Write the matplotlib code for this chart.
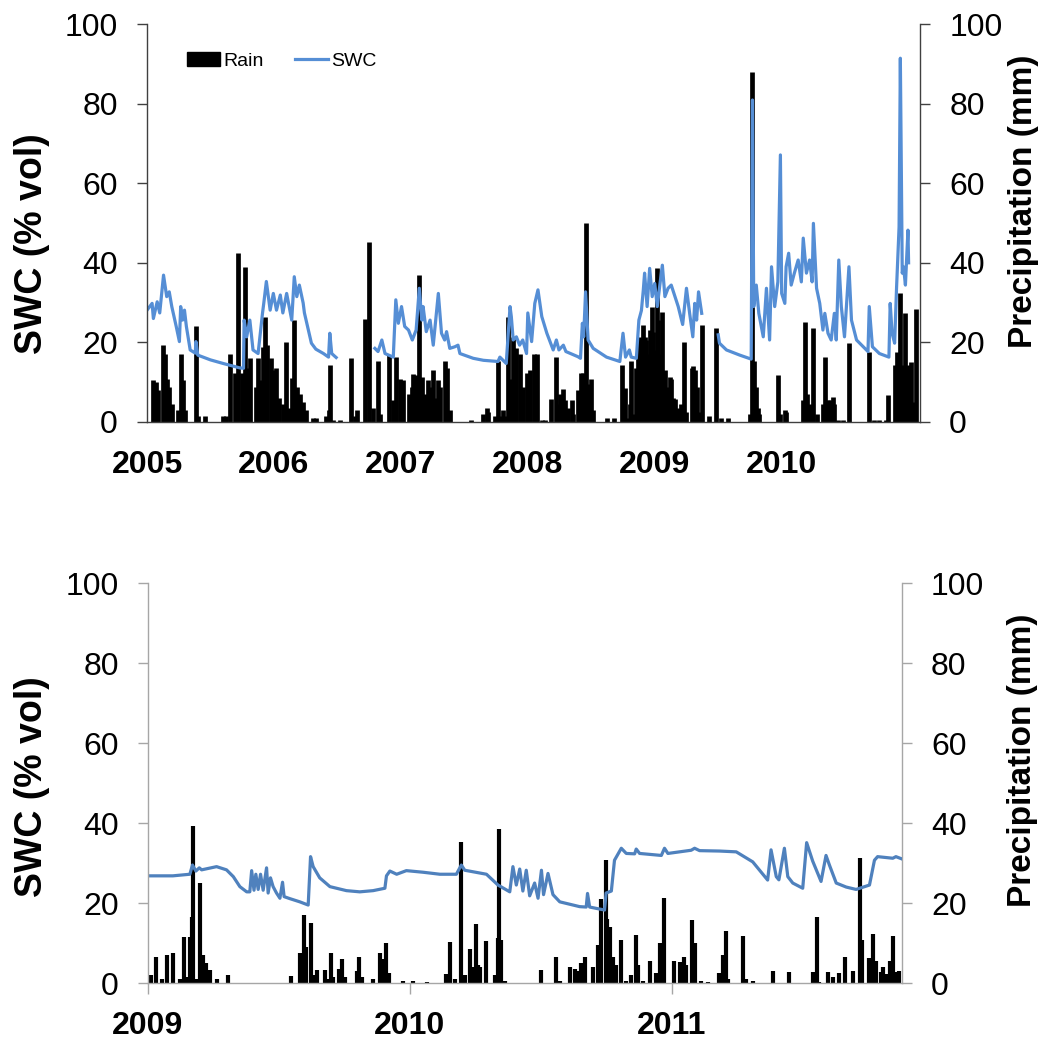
import numpy as np
import matplotlib
matplotlib.use("Agg")
import matplotlib.pyplot as plt
from matplotlib.patches import Patch
from matplotlib.lines import Line2D

plt.rcParams['font.family'] = ['Liberation Sans', 'DejaVu Sans']

# ----------------------------------
# DATA (decimal years)
# ----------------------------------

nan = np.nan

# top panel: soil water content (% vol), gaps = missing data
top_swc_year = [2005.00, 2005.04, 2005.05, 2005.08, 2005.10, 2005.13, 2005.155, 2005.175, 2005.195,
                2005.23, 2005.255, 2005.265, 2005.28, 2005.295, 2005.31, 2005.34, 2005.38, 2005.385,
                2005.40, 2005.50, 2005.60, 2005.73, 2005.76, 2005.765, 2005.785, 2005.81, 2005.835, 2005.875,
                2005.91, 2005.92, 2005.94, 2005.97, 2005.995, 2006.02, 2006.05, 2006.07, 2006.10,
                2006.14, 2006.16, 2006.18, 2006.20, 2006.23, 2006.24, 2006.295, 2006.33, 2006.39, 2006.43,
                2006.44, 2006.455, 2006.49, 2006.60,
                2006.795, 2006.82, 2006.85, 2006.875, 2006.94, 2006.96, 2006.98, 2007.005, 2007.03,
                2007.06, 2007.09, 2007.12, 2007.145, 2007.165, 2007.175, 2007.20, 2007.23, 2007.255,
                2007.295, 2007.32, 2007.345, 2007.36, 2007.385, 2007.425, 2007.45, 2007.465, 2007.57,
                2007.65, 2007.765, 2007.78, 2007.83, 2007.86, 2007.87, 2007.885, 2007.91, 2007.935, 2007.96,
                2007.99, 2008.00, 2008.03, 2008.055, 2008.08, 2008.11, 2008.15, 2008.20, 2008.225,
                2008.245, 2008.28, 2008.30, 2008.395, 2008.415, 2008.43, 2008.44, 2008.455, 2008.475,
                2008.515, 2008.62, 2008.725, 2008.75, 2008.77, 2008.80, 2008.815, 2008.855, 2008.875,
                2008.895, 2008.91, 2008.92, 2008.94, 2008.96, 2008.98, 2009.00, 2009.02, 2009.04,
                2009.06, 2009.08, 2009.105, 2009.13, 2009.16, 2009.185, 2009.22, 2009.25, 2009.275,
                2009.30, 2009.315, 2009.33, 2009.345, 2009.37, 2009.43,
                2009.50, 2009.51, 2009.565, 2009.67, 2009.76, 2009.77, 2009.78, 2009.80, 2009.82,
                2009.855, 2009.88, 2009.905, 2009.92, 2009.945, 2009.97, 2009.99, 2010.00, 2010.025,
                2010.035, 2010.055, 2010.075, 2010.10, 2010.13, 2010.155, 2010.17, 2010.195, 2010.22,
                2010.24, 2010.25, 2010.275, 2010.30, 2010.325, 2010.34, 2010.365, 2010.39, 2010.415,
                2010.43, 2010.45, 2010.47, 2010.495, 2010.53, 2010.55, 2010.59, 2010.68, 2010.69,
                2010.715, 2010.77, 2010.845, 2010.855, 2010.87, 2010.89, 2010.905, 2010.925, 2010.935,
                2010.95, 2010.96, 2010.975, 2010.995, 2011.00]
top_swc_val = [28.1, 29.8, 26.0, 30.2, 27.4, 36.9, 31.5, 32.7, 29.0,
               24.0, 20.2, 29.0, 25.6, 28.1, 24.0, 18.1, 17.3, 20.2,
               16.8, 15.6, 14.7, 13.6, 13.5, 25.6, 21.4, 25.6, 18.1, 17.2,
               27.4, 29.9, 35.3, 28.1, 32.3, 28.1, 31.9, 27.4, 32.3,
               25.6, 36.5, 31.5, 34.4, 29.9, 27.4, 19.8, 18.3, 17.2, 16.3,
               22.3, 17.2, 16.2, nan,
               18.5, 17.7, 20.6, 17.2, 16.3, 30.7, 24.8, 29.0, 24.0,
               23.1, 20.6, 23.1, 33.6, 25.6, 29.0, 22.7, 25.6, 19.3,
               32.3, 22.3, 20.6, 22.7, 18.5, 18.9, 19.3, 17.2, 16.0,
               15.5, 15.2, 16.3, 14.7, 29.0, 26.5, 20.6, 21.4, 19.3, 20.6,
               17.2, 27.4, 20.2, 29.8, 33.2, 26.5, 22.3, 18.1, 20.6,
               18.1, 19.3, 17.7, 16.4, 16.0, 24.8, 21.4, 32.7, 20.6,
               18.5, 16.3, 15.2, 22.3, 16.3, 18.1, 16.3, 16.0, 25.6,
               28.0, 33.2, 37.4, 29.0, 38.6, 31.5, 34.8, 29.0, 34.4,
               39.4, 31.5, 33.6, 34.4, 31.5, 29.0, 24.5, 33.6, 27.3,
               21.4, 29.8, 25.6, 32.7, 27.3, nan,
               21.9, 19.8, 18.1, 16.8, 15.8, 80.9, 29.0, 34.4, 27.3,
               21.4, 33.6, 20.6, 39.0, 29.0, 35.2, 67.1, 32.3, 29.8,
               39.0, 42.4, 34.4, 37.4, 40.7, 35.2, 46.2, 37.4, 40.7,
               35.2, 49.9, 33.6, 29.8, 23.1, 27.3, 22.3, 20.6, 27.3,
               20.6, 40.7, 29.0, 21.4, 39.0, 25.6, 20.6, 17.7, 29.0,
               18.9, 17.2, 16.3, 29.8, 22.3, 19.8, 33.6, 49.0, 91.4,
               37.4, 39.0, 34.4, 48.2, 40.0]

# top panel: daily rain (mm)
top_rain_year = [2005.045, 2005.07, 2005.09, 2005.125, 2005.14, 2005.155, 2005.17, 2005.195, 2005.245,
                 2005.265, 2005.28, 2005.30, 2005.385, 2005.405, 2005.455, 2005.595, 2005.62, 2005.65,
                 2005.69, 2005.705, 2005.72, 2005.745, 2005.77, 2005.785, 2005.81, 2005.86, 2005.875,
                 2005.89, 2005.91, 2005.93, 2005.945, 2005.975, 2005.995, 2006.02, 2006.04, 2006.075,
                 2006.095, 2006.12, 2006.14, 2006.16, 2006.18, 2006.205, 2006.23, 2006.255, 2006.31,
                 2006.335, 2006.41, 2006.43, 2006.445, 2006.465, 2006.52, 2006.605, 2006.64, 2006.655,
                 2006.715, 2006.75, 2006.78, 2006.82, 2006.835, 2006.91, 2006.935, 2006.96, 2006.99,
                 2007.02, 2007.06, 2007.085, 2007.095, 2007.12, 2007.14, 2007.165, 2007.19, 2007.215,
                 2007.24, 2007.255, 2007.28, 2007.295, 2007.31, 2007.345, 2007.36, 2007.385, 2007.555,
                 2007.65, 2007.675, 2007.69, 2007.74, 2007.765, 2007.785, 2007.805, 2007.83, 2007.845,
                 2007.865, 2007.885, 2007.91, 2007.935, 2007.965, 2007.99, 2008.015, 2008.045, 2008.07,
                 2008.11, 2008.135, 2008.185, 2008.22, 2008.24, 2008.25, 2008.275, 2008.29, 2008.315,
                 2008.345, 2008.355, 2008.395, 2008.42, 2008.435, 2008.455, 2008.475, 2008.495, 2008.515,
                 2008.62, 2008.68, 2008.745, 2008.765, 2008.78, 2008.805, 2008.815, 2008.84, 2008.855,
                 2008.87, 2008.88, 2008.895, 2008.91, 2008.92, 2008.935, 2008.945, 2008.96, 2008.975,
                 2008.985, 2009.00, 2009.015, 2009.025, 2009.04, 2009.06, 2009.08, 2009.095, 2009.12,
                 2009.13, 2009.145, 2009.16, 2009.185, 2009.21, 2009.23, 2009.25, 2009.29, 2009.30,
                 2009.315, 2009.335, 2009.355, 2009.375, 2009.43, 2009.48, 2009.525, 2009.575, 2009.75,
                 2009.765, 2009.785, 2009.80, 2009.81, 2009.825, 2009.97, 2009.985, 2010.025, 2010.035,
                 2010.17, 2010.18, 2010.20, 2010.22, 2010.235, 2010.25, 2010.275, 2010.325, 2010.34,
                 2010.365, 2010.38, 2010.405, 2010.415, 2010.44, 2010.48, 2010.53, 2010.69, 2010.73,
                 2010.77, 2010.825, 2010.835, 2010.89, 2010.905, 2010.915, 2010.93, 2010.955, 2010.975,
                 2010.995, 2011.02, 2011.04, 2011.06]
top_rain_mm = [10.5, 10.0, 8.0, 19.3, 17.0, 10.8, 8.7, 4.5, 3.0,
               17.2, 10.5, 3.0, 24.0, 1.5, 1.5, 1.5, 1.5, 17.2,
               12.3, 3.0, 42.4, 12.3, 39.0, 13.5, 16.0, 8.7, 16.0,
               10.5, 18.9, 26.5, 19.3, 16.0, 13.0, 13.5, 6.0, 4.5,
               20.2, 3.5, 11.0, 25.6, 8.7, 7.0, 5.0, 3.0, 1.0,
               1.0, 1.5, 3.0, 14.3, 0.5, 0.5, 16.0, 1.5, 3.0,
               26.0, 45.3, 3.5, 15.2, 2.0, 16.8, 5.5, 16.3, 10.8,
               10.5, 7.0, 8.7, 12.0, 11.7, 36.9, 11.3, 7.0, 10.5,
               8.7, 13.0, 6.0, 10.5, 8.7, 15.2, 13.5, 3.0, 0.5,
               2.0, 3.5, 2.5, 1.5, 15.2, 1.5, 3.0, 1.5, 26.5,
               10.8, 21.4, 18.5, 17.2, 8.7, 12.3, 13.0, 17.2, 17.2,
               0.5, 0.5, 5.9, 16.3, 4.5, 7.0, 8.4, 5.5, 3.5,
               5.5, 2.0, 8.0, 12.3, 12.3, 50.0, 9.5, 10.8, 3.0,
               1.0, 1.0, 14.3, 8.5, 1.0, 4.5, 15.2, 2.0, 13.5,
               20.6, 21.4, 20.6, 24.4, 21.4, 20.6, 17.2, 23.0, 29.0,
               22.7, 18.1, 38.6, 25.6, 17.2, 27.7, 13.0, 8.7, 11.3,
               10.8, 6.0, 5.9, 3.5, 4.5, 20.2, 2.5, 13.5, 14.0,
               13.0, 8.7, 2.5, 24.4, 1.5, 23.6, 1.0, 1.0, 2.0,
               88.0, 15.2, 8.7, 3.5, 2.0, 11.7, 2.0, 3.0, 2.5,
               5.5, 25.0, 7.0, 4.5, 3.0, 23.6, 2.0, 4.5, 16.3,
               5.5, 5.5, 6.3, 4.5, 0.5, 0.5, 19.8, 17.7, 0.5,
               0.5, 0.5, 6.7, 14.3, 17.7, 17.0, 32.3, 14.3, 27.3,
               14.3, 15.0, 5.0, 28.3]

# bottom panel: soil water content (% vol)
bot_swc_year = [2009.00, 2009.095, 2009.16, 2009.17, 2009.183, 2009.196, 2009.205, 2009.262, 2009.30,
                2009.326, 2009.351, 2009.377, 2009.389, 2009.396, 2009.405, 2009.412, 2009.421, 2009.43,
                2009.44, 2009.453, 2009.459, 2009.468, 2009.478, 2009.491, 2009.504, 2009.514, 2009.52,
                2009.542, 2009.58, 2009.612, 2009.621, 2009.631, 2009.656, 2009.695, 2009.758, 2009.809,
                2009.86, 2009.905, 2009.911, 2009.924, 2009.95, 2009.987, 2010.051, 2010.115, 2010.178,
                2010.197, 2010.21, 2010.293, 2010.337, 2010.382, 2010.394, 2010.407, 2010.42, 2010.432,
                2010.445, 2010.458, 2010.477, 2010.49, 2010.503, 2010.511, 2010.528, 2010.547, 2010.573,
                2010.649, 2010.674, 2010.679, 2010.687, 2010.744, 2010.75, 2010.77, 2010.782, 2010.808,
                2010.827, 2010.859, 2010.865, 2010.878, 2010.961, 2010.973, 2010.986, 2011.075, 2011.088,
                2011.107, 2011.183, 2011.247, 2011.31, 2011.367, 2011.38, 2011.40, 2011.41, 2011.431,
                2011.444, 2011.463, 2011.501, 2011.516, 2011.539, 2011.571, 2011.59, 2011.603, 2011.629,
                2011.667, 2011.705, 2011.756, 2011.775, 2011.787, 2011.845, 2011.857, 2011.877]
bot_swc_val = [26.8, 26.8, 27.2, 29.5, 28.0, 28.8, 28.3, 29.1, 28.3,
               26.6, 24.1, 22.8, 22.8, 28.1, 23.2, 27.2, 23.4, 27.2,
               23.2, 28.8, 22.5, 26.3, 24.1, 22.5, 21.2, 25.2, 21.6,
               21.1, 20.3, 19.5, 31.6, 29.1, 26.3, 24.1, 23.1, 22.8,
               23.1, 23.7, 26.8, 28.0, 27.2, 28.1, 27.7, 27.2, 27.2,
               29.5, 28.2, 27.2, 24.5, 22.8, 29.1, 24.5, 28.5, 23.0,
               28.2, 21.8, 25.0, 21.2, 28.2, 22.1, 27.4, 22.1, 20.3,
               19.1, 19.0, 22.4, 19.0, 18.25, 22.5, 23.0, 30.7, 33.7,
               32.4, 32.3, 33.5, 32.4, 31.9, 33.7, 32.4, 33.2, 33.7,
               33.1, 33.0, 32.8, 30.3, 25.75, 33.3, 26.6, 25.8, 33.7,
               26.6, 25.0, 23.7, 35.1, 30.5, 25.4, 31.9, 29.5, 25.0,
               24.0, 23.4, 24.5, 30.7, 31.6, 31.2, 31.6, 31.1]

# bottom panel: daily rain (mm)
bot_rain_year = [2009.01, 2009.03, 2009.052, 2009.071, 2009.097, 2009.122, 2009.137, 2009.148, 2009.16,
                 2009.167, 2009.173, 2009.183, 2009.198, 2009.211, 2009.221, 2009.237, 2009.262, 2009.306,
                 2009.548, 2009.58, 2009.595, 2009.603, 2009.621, 2009.631, 2009.644, 2009.676, 2009.682,
                 2009.70, 2009.707, 2009.73, 2009.743, 2009.752, 2009.797, 2009.805, 2009.816, 2009.86,
                 2009.888, 2009.898, 2009.911, 2009.921, 2009.974, 2010.013, 2010.064, 2010.14, 2010.155,
                 2010.172, 2010.197, 2010.21, 2010.229, 2010.242, 2010.252, 2010.261, 2010.27, 2010.293,
                 2010.324, 2010.337, 2010.34, 2010.35, 2010.363, 2010.503, 2010.557, 2010.573, 2010.611,
                 2010.63, 2010.642, 2010.655, 2010.668, 2010.70, 2010.719, 2010.732, 2010.748, 2010.753,
                 2010.763, 2010.776, 2010.789, 2010.805, 2010.827, 2010.846, 2010.863, 2010.871, 2010.89,
                 2010.916, 2010.939, 2010.954, 2010.971, 2011.011, 2011.031, 2011.047, 2011.056, 2011.077,
                 2011.088, 2011.113, 2011.139, 2011.183, 2011.196, 2011.209, 2011.215, 2011.272, 2011.285,
                 2011.31, 2011.387, 2011.448, 2011.539, 2011.555, 2011.565, 2011.597, 2011.616, 2011.641,
                 2011.664, 2011.692, 2011.718, 2011.729, 2011.756, 2011.768, 2011.781, 2011.80, 2011.806,
                 2011.82, 2011.835, 2011.845, 2011.857, 2011.87]
bot_rain_mm = [2.0, 6.6, 1.0, 6.9, 7.4, 1.0, 11.6, 1.5, 11.6,
               16.6, 39.25, 1.0, 24.9, 6.9, 5.0, 3.3, 1.0, 2.0,
               1.8, 7.6, 17.0, 9.0, 14.9, 2.0, 3.2, 3.2, 1.0,
               7.6, 1.5, 3.5, 5.9, 1.5, 3.0, 6.5, 1.5, 1.0,
               7.6, 5.9, 9.9, 2.5, 0.5, 0.5, 0.3, 2.2, 10.3,
               1.0, 35.2, 2.0, 8.6, 4.0, 14.7, 4.5, 4.0, 10.6,
               2.0, 11.3, 38.4, 10.8, 0.5, 3.2, 6.6, 0.5, 4.0,
               3.5, 3.0, 5.0, 6.6, 4.0, 9.4, 20.9, 30.75, 16.0,
               14.0, 6.6, 4.6, 10.8, 0.5, 2.0, 11.9, 4.5, 0.5,
               5.4, 2.5, 9.9, 21.3, 5.6, 5.3, 6.6, 4.5, 15.75,
               9.9, 0.5, 0.3, 2.5, 7.1, 12.9, 1.0, 11.7, 1.0,
               0.5, 3.0, 2.8, 2.8, 16.6, 0.3, 2.8, 1.5, 2.6,
               6.4, 2.9, 31.2, 10.7, 6.3, 12.2, 5.5, 2.8, 4.0,
               2.3, 5.6, 11.8, 2.8, 3.0]

top_years = [2005, 2006, 2007, 2008, 2009, 2010]
bot_years = [2009, 2010, 2011]
y_ticks = [0, 20, 40, 60, 80, 100]

# ----------------------------------
# FIGURE
# ----------------------------------

fig = plt.figure(figsize=(10.45, 10.44), dpi=100)


def make_panel(rect, swc_x, swc_y, rain_x, rain_y, xlim, years,
               swc_color, spine_color, show_xticks, left_lab, right_lab, bar_lw):
    ax = fig.add_axes(rect)
    ax2 = ax.twinx()
    ax.set_zorder(ax2.get_zorder() + 1)
    ax.patch.set_visible(False)

    ax2.vlines(rain_x, 0, rain_y, colors='black', linewidth=bar_lw)
    ax.plot(swc_x, swc_y, color=swc_color, linewidth=2.3)

    for a in (ax, ax2):
        a.set_ylim(0, 100)
        a.set_yticks(y_ticks)
        a.set_xlim(*xlim)
        a.spines['top'].set_visible(False)
        for s in ('left', 'right', 'bottom'):
            a.spines[s].set_color(spine_color)
            a.spines[s].set_linewidth(1.0)
        a.tick_params(axis='y', direction='out', length=7, width=1,
                      color=spine_color, labelsize=23, pad=14)
    ax.spines['right'].set_visible(False)
    ax2.spines['left'].set_visible(False)
    ax2.spines['bottom'].set_visible(False)

    ax.set_xticks(years)
    ax.set_xticklabels([str(y) for y in years], fontweight='bold', fontsize=23)
    if show_xticks:
        ax.tick_params(axis='x', direction='out', length=8, width=1,
                       color=spine_color, pad=12)
    else:
        ax.tick_params(axis='x', length=0, pad=20)

    ax.set_ylabel("SWC (% vol)", fontsize=27, fontweight='bold')
    ax.yaxis.set_label_coords(*left_lab)
    ax2.set_ylabel("Precipitation (mm)", fontsize=24, fontweight='bold')
    ax2.yaxis.set_label_coords(*right_lab)
    return ax, ax2


# top panel: 2005-2010
ax_top, ax_top2 = make_panel([0.1407, 0.5958, 0.7397, 0.3812],
                             top_swc_year, top_swc_val, top_rain_year, top_rain_mm,
                             (2005.0, 2011.09), top_years,
                             '#558ED5', '#404040', False,
                             (-0.125, 0.447), (1.114, 0.555), 3.4)

handles = [Patch(facecolor='black', edgecolor='black', label='Rain'),
           Line2D([], [], color='#558ED5', linewidth=2.3, label='SWC')]
ax_top.legend(handles=handles, loc='center left', bbox_to_anchor=(0.052, 0.907),
              ncol=2, frameon=False, fontsize=14, handlelength=1.7,
              handletextpad=0.15, columnspacing=1.6, borderpad=0, borderaxespad=0)

# bottom panel: 2009-2011
ax_bot, ax_bot2 = make_panel([0.1416, 0.0584, 0.7215, 0.3831],
                             bot_swc_year, bot_swc_val, bot_rain_year, bot_rain_mm,
                             (2009.0, 2011.88), bot_years,
                             '#4F81BD', '#A6A6A6', True,
                             (-0.13, 0.49), (1.139, 0.5575), 3.0)

plt.savefig("out.png", dpi=100)
plt.close()
